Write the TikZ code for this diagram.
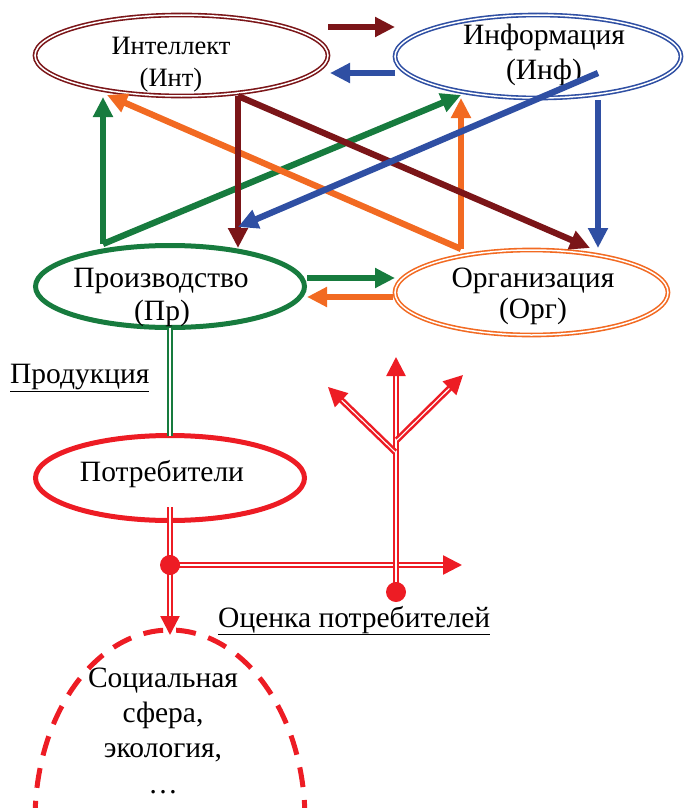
\documentclass[tikz,border=0pt]{standalone}
\usepackage{fontspec}
\setmainfont{Liberation Serif}
\usetikzlibrary{shapes.geometric,arrows.meta}
\definecolor{cDR}{RGB}{123,21,24}
\definecolor{cBL}{RGB}{47,79,163}
\definecolor{cGR}{RGB}{23,123,62}
\definecolor{cOR}{RGB}{242,106,34}
\definecolor{cRD}{RGB}{237,28,36}
\begin{document}
\begin{tikzpicture}[x=1pt,y=-1pt,
  ell/.style={ellipse,inner sep=0pt,outer sep=0pt},
  dbl/.style={double=white,line width=1.6pt,double distance=1.5pt},
  arr/.style={line width=6.3pt,-{Triangle[length=20pt,width=19pt]}},
  darr/.style={double=white,line width=2.5pt,double distance=1.1pt,-{Triangle[length=19pt,width=19pt]}},
  lbl/.style={anchor=base,inner sep=0pt},
  fbig/.style={font=\fontsize{29.5}{32}\selectfont},
  fsmall/.style={font=\fontsize{26.5}{30}\selectfont},
]
\useasboundingbox (0,0) rectangle (684,808);
\clip (0,0) rectangle (684,808);

% ellipses
\node[ell,draw=cDR,dbl,minimum width=293pt,minimum height=81pt] (int) at (181.5,55.5) {};
\node[ell,draw=cBL,dbl,minimum width=286pt,minimum height=83pt] (inf) at (538,56.5) {};
\node[ell,draw=cGR,line width=5pt,minimum width=269pt,minimum height=82pt] (pr) at (170,286.5) {};
\node[ell,draw=cOR,dbl,minimum width=273pt,minimum height=85pt] (org) at (531.5,292.5) {};
\node[ell,draw=cRD,line width=5pt,minimum width=269pt,minimum height=85pt] (potr) at (170,478) {};
\node[ell,draw=cRD,line width=5pt,dash pattern=on 20pt off 13pt,minimum width=270pt,minimum height=380pt] (soc) at (170,820) {};

% texts
\node[lbl,fsmall] (intA) at (171,55) {Интеллект};
\node[lbl,fsmall] (intB) at (171,86) {(Инт)};
\node[lbl,fbig] (infA) at (544,45) {Информация};
\node[lbl,fbig] (infB) at (544,79) {(Инф)};
\node[lbl,fbig] (prA) at (161,287) {Производство};
\node[lbl,fbig] (prB) at (162,320) {(Пр)};
\node[lbl,fbig] (orgA) at (533,287) {Организация};
\node[lbl,fbig] (orgB) at (533,318) {(Орг)};
\node[lbl,fbig] (potrA) at (162,481) {Потребители};
\node[lbl,fbig] (socA) at (163,687) {Социальная};
\node[lbl,fbig] (socB) at (163,722) {сфера,};
\node[lbl,fbig] (socC) at (163,757) {экология,};
\node[lbl,fbig] (socD) at (163,793) {…};
\node[lbl,fbig,anchor=base west] (prod) at (10,383) {\underline{Продукция}};
\node[lbl,fbig,anchor=base west] (ocen) at (218,627) {\underline{Оценка потребителей}};

% connector coordinates
\coordinate (a1s) at (328,27);  \coordinate (a1e) at (395,27);
\coordinate (a2s) at (395,73);  \coordinate (a2e) at (330,73);
\coordinate (gS) at (103,244);
\coordinate (g1e) at (103,97);  \coordinate (g2e) at (461,95);
\coordinate (oS) at (461,249);
\coordinate (o1e) at (107,95);  \coordinate (o2e) at (461,98);
\coordinate (rS) at (238,96);
\coordinate (r1e) at (238,248); \coordinate (r2e) at (590,248);
\coordinate (b1s) at (598,73);  \coordinate (b1e) at (238,227);
\coordinate (b2s) at (598,100); \coordinate (b2e) at (598,248);
\coordinate (g3s) at (307,278); \coordinate (g3e) at (395,278);
\coordinate (o3s) at (393,297); \coordinate (o3e) at (307,297);

\draw[arr,cDR] (a1s) -- (a1e);
\draw[arr,cBL] (a2s) -- (a2e);
\draw[arr,cGR] (gS) -- (g1e);
\draw[arr,cGR] (gS) -- (g2e);
\draw[arr,cOR] (oS) -- (o1e);
\draw[arr,cOR] (oS) -- (o2e);
\draw[arr,cDR] (rS) -- (r1e);
\draw[arr,cDR] (rS) -- (r2e);
\draw[arr,cBL] (b1s) -- (b1e);
\draw[arr,cBL] (b2s) -- (b2e);
\draw[arr,cGR] (g3s) -- (g3e);
\draw[arr,cOR] (o3s) -- (o3e);

% production line
\draw[cGR,double=white,line width=2.3pt,double distance=1.1pt] (pr.south) -- (potr.north);

% red network
\coordinate (d1) at (170,565);
\coordinate (d2) at (396,592);
\coordinate (rv0) at (170,507);
\coordinate (rvE) at (170,635);
\coordinate (rhE) at (462,565);
\coordinate (rtE) at (396,357);
\coordinate (bl0) at (395,452); \coordinate (blE) at (328,387);
\coordinate (br0) at (397,440); \coordinate (brE) at (463,375);
\draw[darr,cRD] (rv0) -- (rvE);
\draw[darr,cRD] (d1) -- (rhE);
\draw[darr,cRD] (d2) -- (rtE);
\draw[darr,cRD] (bl0) -- (blE);
\draw[darr,cRD] (br0) -- (brE);
\fill[cRD] (d1) circle[radius=10pt];
\fill[cRD] (d2) circle[radius=10pt];
\end{tikzpicture}
\end{document}
